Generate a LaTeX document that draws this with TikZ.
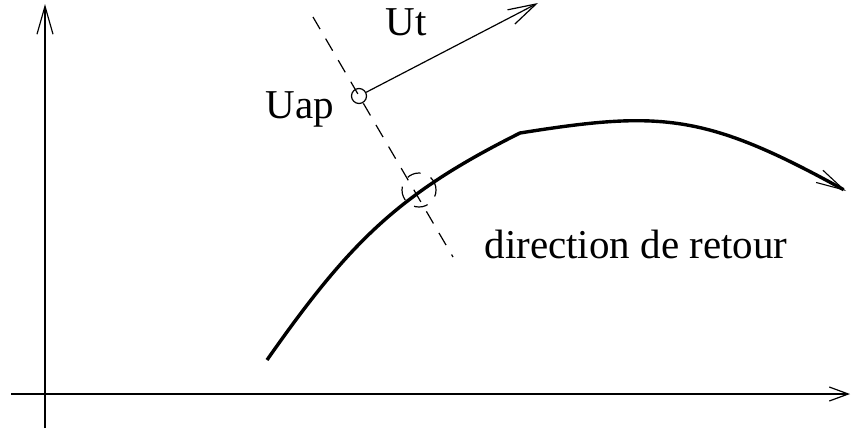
\documentclass[tikz,border=0pt]{standalone}
\usepackage{fontspec}
\setmainfont{Liberation Serif}
\usetikzlibrary{arrows.meta}

\begin{document}
\begin{tikzpicture}[x=1pt,y=-1pt,font=\fontsize{41}{49}\selectfont,
 fin/.style={line width=1.2pt},
 barb/.style={-{Straight Barb[length=28pt,width=16pt,line width=1.2pt]}},
 tirets/.style={fin,dash pattern=on 14pt off 11pt},
 lbl/.style={anchor=base,inner sep=0pt}]
\useasboundingbox (0,0) rectangle (851,432);
% axes
\coordinate (xdeb) at (11,394); \coordinate (xfin) at (850,394);
\coordinate (ydeb) at (45,428); \coordinate (yfin) at (45,4);
\draw[fin,-{Straight Barb[length=19pt,width=14pt,line width=1.2pt]}] (xdeb) -- (xfin);
\draw[fin,barb] (ydeb) -- (yfin);
% trajectoire
\coordinate (cdeb) at (267,360); \coordinate (coude) at (520,133); \coordinate (cfin) at (846,191);
\draw[line width=3.4pt,-{Straight Barb[length=28pt,width=14pt,line width=1.1pt]}]
 (cdeb) .. controls (351,240) and (400,193) .. (coude)
 .. controls (660,110.6) and (705,113) .. (cfin);
% direction de retour
\coordinate (dhaut) at (313,17); \coordinate (dbas) at (453,257);
\draw[tirets] (dhaut) -- (dbas);
\node[circle,draw,fin,inner sep=0pt,minimum size=15pt] (uap) at (359,96) {};
\node[circle,draw,tirets,inner sep=0pt,minimum size=34pt] (inter) at (419,190) {};
\coordinate (ut) at (538,3);
\draw[fin,barb] (uap) -- (ut);
\node[lbl] (lut) at (406,35) {Ut};
\node[lbl] (luap) at (300,118) {Uap};
\node[lbl] (lretour) at (636,258) {direction de retour};
\end{tikzpicture}
\end{document}
